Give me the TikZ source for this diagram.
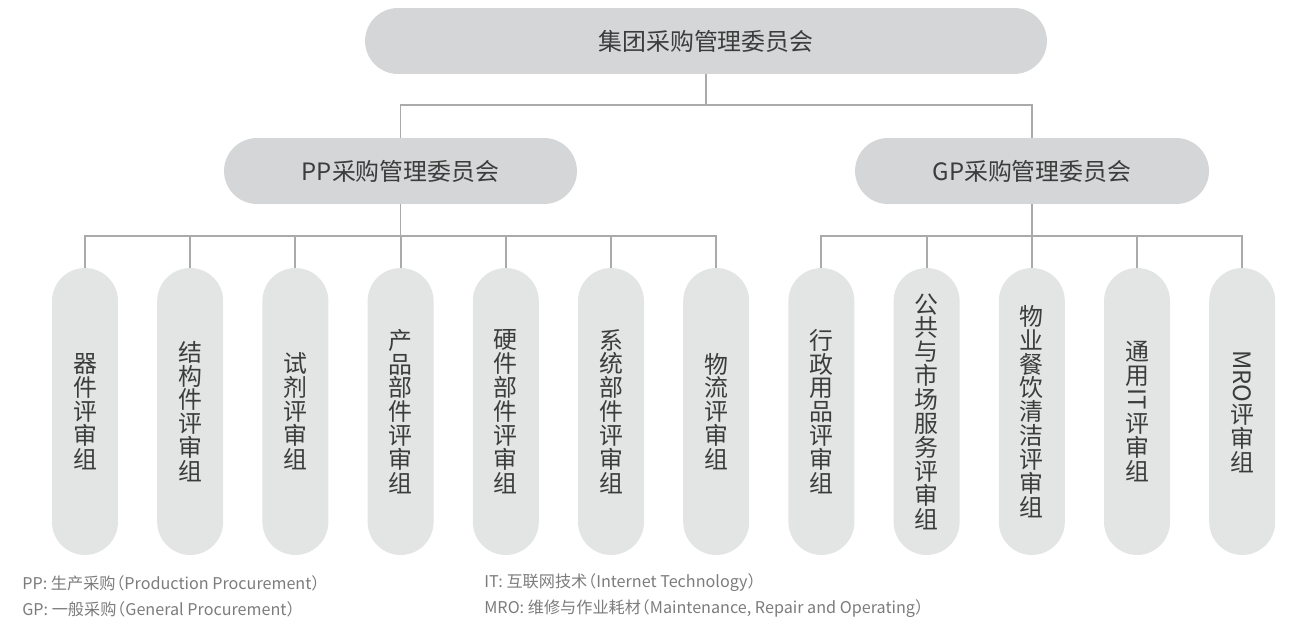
\documentclass[tikz,border=0pt]{standalone}
\usepackage{fontspec}
\usepackage{graphicx}
\setmainfont{Noto Sans CJK SC}
\definecolor{boxdark}{HTML}{D5D6D7}
\definecolor{boxlight}{HTML}{E3E4E4}
\definecolor{linegray}{HTML}{A9AAAC}
\definecolor{txtgray}{HTML}{3C3C3C}
\definecolor{notegray}{HTML}{7C7C7C}
\newcommand{\turned}[1]{\raisebox{0.85em}{\rotatebox{-90}{#1}}}
\newcommand{\lp}{\kern-0.45em（}

\begin{document}
\begin{tikzpicture}[x=0.02cm,y=-0.02cm,
  pill/.style={fill=boxdark,rounded corners=0.66cm,minimum height=1.32cm,
    inner sep=0pt,outer sep=0pt,text=txtgray,font=\fontsize{13.6}{13.6}\selectfont},
  vpill/.style={fill=boxlight,rounded corners=0.66cm,minimum width=1.32cm,
    minimum height=5.74cm,inner sep=0pt,outer sep=0pt,align=center,
    text=txtgray,font=\fontsize{13.6}{13.6}\selectfont},
  link/.style={draw=linegray,line width=1.1pt},
  note/.style={anchor=west,inner sep=0pt,text=notegray,font=\fontsize{9.2}{11}\selectfont}]
\useasboundingbox (0,0) rectangle (1293,621);

\node[pill,minimum width=13.64cm] (top) at (706,41) {集团采购管理委员会};
\node[pill,minimum width=7.06cm] (pp) at (400.5,171) {PP采购管理委员会};
\node[pill,minimum width=7.08cm] (gp) at (1032,171) {GP采购管理委员会};
\coordinate (bus0) at (706,105);
\coordinate (busP) at (400.5,236);
\coordinate (busG) at (1032,236);

\foreach \t [count=\i] in {
  {器\\件\\评\\审\\组},
  {结\\构\\件\\评\\审\\组},
  {试\\剂\\评\\审\\组},
  {产\\品\\部\\件\\评\\审\\组},
  {硬\\件\\部\\件\\评\\审\\组},
  {系\\统\\部\\件\\评\\审\\组},
  {物\\流\\评\\审\\组},
  {行\\政\\用\\品\\评\\审\\组},
  {公\\共\\与\\市\\场\\服\\务\\评\\审\\组},
  {物\\业\\餐\\饮\\清\\洁\\评\\审\\组},
  {通\\用\\\turned{IT}\\评\\审\\组},
  {\turned{MRO}\\评\\审\\组}}
  \node[vpill] (g\i) at ({85+105.2*(\i-1)},411.5) {\t};

% connectors
\draw[link] (top.south) -- (bus0);
\draw[link] (pp.north) |- (bus0) -| (gp.north);
\draw[link] (pp.south) -- (busP);
\draw[link] (gp.south) -- (busG);
\foreach \i in {1,...,7}
  \draw[link] (g\i.north) |- (busP);
\foreach \i in {8,...,12}
  \draw[link] (g\i.north) |- (busG);

% legend
\node[note] (n1) at (22,583) {PP: 生产采购\lp Production Procurement）};
\node[note] (n2) at (22,609) {GP: 一般采购\lp General Procurement）};
\node[note] (n3) at (484,583) {IT: 互联网技术\lp Internet Technology）};
\node[note] (n4) at (484,609) {MRO: 维修与作业耗材\lp Maintenance, Repair and Operating）};
\end{tikzpicture}
\end{document}
